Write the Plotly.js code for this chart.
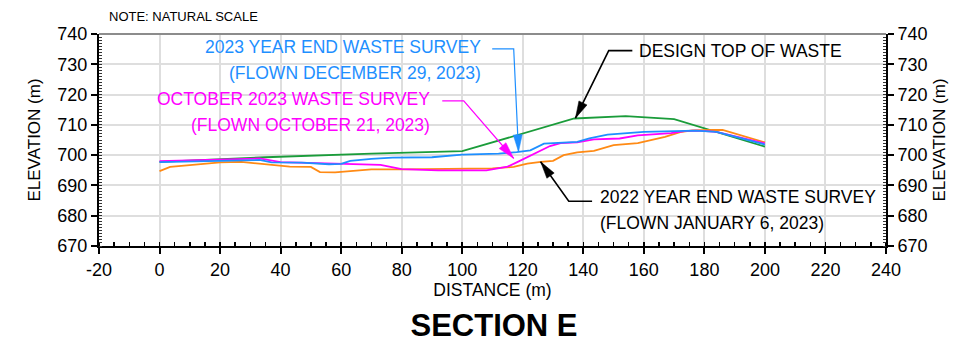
<!DOCTYPE html>
<html><head><meta charset="utf-8">
<script src="https://cdn.plot.ly/plotly-3.0.1.min.js"></script>
<style>html,body{margin:0;padding:0;background:#fff}</style>
</head><body>
<div id="chart" style="width:964px;height:342px"></div>
<script>
// ---- Data (distance in m, elevation in m) ----
const designDist = [0, 35, 70, 100, 137, 154, 170, 200];
const designElev = [697.8, 699.3, 700.5, 701.3, 712.1, 712.9, 711.9, 702.8];

const dec2023Dist = [0, 20, 33, 37, 47, 56, 60, 63, 70, 77, 90, 100, 112, 118, 122.5, 127, 132.5, 138, 142, 148, 160, 177, 184, 200];
const dec2023Elev = [697.7, 698.0, 698.4, 697.6, 697.5, 697.0, 697.1, 698.1, 698.8, 699.2, 699.3, 700.2, 700.5, 701.0, 701.6, 703.8, 704.1, 704.4, 705.5, 706.8, 707.7, 708.1, 707.7, 703.5];

const oct2023Dist = [0, 20, 33, 40, 56, 66, 73, 80, 92, 108, 115, 118, 121.5, 125, 129, 132.5, 138, 143.5, 152, 158, 160, 169, 174, 178, 184, 200];
const oct2023Elev = [698.0, 698.5, 698.9, 697.7, 697.2, 696.8, 696.8, 695.4, 695.0, 695.0, 696.2, 697.6, 699.3, 700.8, 703.0, 704.0, 704.2, 705.2, 705.5, 706.5, 706.6, 707.3, 708.0, 708.1, 707.7, 703.9];

const jan2023Dist = [0, 3.5, 10, 20, 27, 34, 43, 50, 53, 58, 70, 80, 92, 110, 117, 121.5, 126, 130, 133.5, 138, 143.5, 150, 158, 167, 172, 176, 183, 186, 200];
const jan2023Elev = [694.7, 696.1, 696.7, 697.6, 697.8, 697.0, 696.2, 696.1, 694.4, 694.3, 695.3, 695.3, 695.4, 695.6, 696.1, 697.2, 697.8, 698.1, 700.0, 700.9, 701.4, 703.3, 704.0, 706.0, 707.6, 708.2, 708.3, 708.3, 704.2];

const xTickVals = [-20, 0, 20, 40, 60, 80, 100, 120, 140, 160, 180, 200, 220, 240];
const xTickText = ['-20', '0', '20', '40', '60', '80', '100', '120', '140', '160', '180', '200', '220', '240'];
const yTickVals = [670, 680, 690, 700, 710, 720, 730, 740];

// ---- Styling ----
const FONT = '"Liberation Sans", Arial, sans-serif';
const GREEN = '#1a9c3a', BLUE = '#1e8fff', MAGENTA = '#ff00ff', ORANGE = '#ff8a14';
const XR = [-20, 240], YR = [670, 740];
const M = {l: 99, r: 78, t: 34, b: 96};
const PW = 964 - M.l - M.r, PH = 342 - M.t - M.b;
const kx = PW / (XR[1] - XR[0]), ky = PH / (YR[1] - YR[0]);

function line(x, y, color, name, yax) {
  return {x: x, y: y, type: 'scatter', mode: 'lines', name: name, yaxis: yax || 'y',
          line: {color: color, width: 1.8}, hoverinfo: 'x+y'};
}
const traces = [
  line(designDist, designElev, GREEN, 'DESIGN TOP OF WASTE'),
  line(jan2023Dist, jan2023Elev, ORANGE, '2022 YEAR END WASTE SURVEY'),
  line(oct2023Dist, oct2023Elev, MAGENTA, 'OCTOBER 2023 WASTE SURVEY'),
  line(dec2023Dist, dec2023Elev, BLUE, '2023 YEAR END WASTE SURVEY', 'y2')
];

// leaders: [textEnd, bend, tip] in data coords
const leaders = [
  {pts: [[109.9, 735.1], [117.0, 735.1], [118.6, 701.1]], color: BLUE, w: 1.2},
  {pts: [[93.4, 717.9], [100.5, 717.9], [117.0, 698.9]], color: MAGENTA, w: 1.2},
  {pts: [[156.2, 734.5], [148.4, 734.5], [137.4, 712.2]], color: 'black', w: 1.6},
  {pts: [[142.9, 684.8], [135.2, 684.8], [125.9, 697.8]], color: 'black', w: 1.6}
];
const shapes = [];
leaders.forEach(function (ld) {
  const p = ld.pts;
  shapes.push({type: 'path', xref: 'x', yref: 'y',
    path: 'M' + p[0][0] + ',' + p[0][1] + ' L' + p[1][0] + ',' + p[1][1] + ' L' + p[2][0] + ',' + p[2][1],
    line: {color: ld.color, width: ld.w}});
  // arrowhead triangle in pixel units (y up)
  const dx = (p[2][0] - p[1][0]) * kx, dy = (p[2][1] - p[1][1]) * ky;
  const len = Math.hypot(dx, dy), ux = dx / len, uy = dy / len;
  const L = 17, W = 4.5;
  const nx = -uy, ny = ux;
  const b1 = [-L * ux + W * nx, -L * uy + W * ny], b2 = [-L * ux - W * nx, -L * uy - W * ny];
  shapes.push({type: 'path', xref: 'x', yref: 'y', xsizemode: 'pixel', ysizemode: 'pixel',
    xanchor: p[2][0], yanchor: p[2][1],
    path: 'M0,0 L' + b1[0].toFixed(2) + ',' + b1[1].toFixed(2) + ' L' + b2[0].toFixed(2) + ',' + b2[1].toFixed(2) + ' Z',
    fillcolor: ld.color, line: {color: ld.color, width: 0.5}});
});
// top frame line
shapes.push({type: 'line', xref: 'paper', yref: 'paper', x0: 0, x1: 1, y0: 1, y1: 1,
  line: {color: '#8c8c8c', width: 2}});

function label(x, y, text, anchor, color) {
  return {xref: 'x', yref: 'y', x: x, y: y, xanchor: anchor, yanchor: 'middle', text: text,
          showarrow: false, font: {family: FONT, size: 17.5, color: color}};
}
const annotations = [
  label(106.7, 735.8, '2023 YEAR END WASTE SURVEY', 'right', BLUE),
  label(106.9, 727.2, '(FLOWN DECEMBER 29, 2023)', 'right', BLUE),
  label(90.1, 718.5, 'OCTOBER 2023 WASTE SURVEY', 'right', MAGENTA),
  label(90.1, 709.9, '(FLOWN OCTOBER 21, 2023)', 'right', MAGENTA),
  label(157.9, 734.5, 'DESIGN TOP OF WASTE', 'left', 'black'),
  label(145.0, 686.1, '2022 YEAR END WASTE SURVEY', 'left', 'black'),
  label(145.0, 677.5, '(FLOWN JANUARY 6, 2023)', 'left', 'black'),
  {xref: 'paper', yref: 'paper', x: 0, y: 1, xshift: 8, yshift: 18, xanchor: 'left', yanchor: 'middle',
   text: 'NOTE: NATURAL SCALE', showarrow: false, font: {family: FONT, size: 13, color: 'black'}}
];

const tickFont = {family: FONT, size: 18, color: 'black'};
const yCommon = {
  range: YR, tickvals: yTickVals, ticks: 'outside', ticklen: 6, tickwidth: 2, tickcolor: 'black',
  showline: true, linecolor: 'black', linewidth: 2, tickfont: tickFont, zeroline: false,
  minor: {dtick: 1, ticks: 'inside', ticklen: 3, tickwidth: 1, tickcolor: '#333', showgrid: false},
  fixedrange: true
};

const layout = {
  width: 964, height: 342, margin: M, showlegend: false,
  paper_bgcolor: 'white', plot_bgcolor: 'white',
  title: {text: '<b>SECTION E</b>', font: {family: FONT, size: 31, color: 'black'},
          x: 494 / 964, xref: 'container', xanchor: 'center', y: 1 - 325 / 342, yref: 'container', yanchor: 'middle'},
  xaxis: {
    range: XR, tickvals: xTickVals, ticktext: xTickText, ticks: 'outside', ticklen: 6, tickwidth: 2, tickcolor: 'black',
    showline: true, linecolor: 'black', linewidth: 2, showgrid: true, gridcolor: '#dedede', gridwidth: 2,
    zeroline: false, tickfont: tickFont,
    minor: {dtick: 5, ticks: 'inside', ticklen: 4, tickwidth: 1.5, tickcolor: 'black', showgrid: false},
    title: {text: 'DISTANCE (m)', font: {family: FONT, size: 17.5, color: 'black'}, standoff: 3}
  },
  yaxis: Object.assign({}, yCommon, {
    side: 'left', showgrid: true, gridcolor: '#dedede', gridwidth: 2,
    title: {text: 'ELEVATION (m)', font: {family: FONT, size: 17, color: 'black'}, standoff: 12}
  }),
  yaxis2: Object.assign({}, yCommon, {
    side: 'right', overlaying: 'y', showgrid: false,
    title: {text: 'ELEVATION (m)', font: {family: FONT, size: 17, color: 'black'}, standoff: 6}
  }),
  shapes: shapes,
  annotations: annotations
};

Plotly.newPlot('chart', traces, layout, {displayModeBar: false, staticPlot: true});
</script>
</body></html>
